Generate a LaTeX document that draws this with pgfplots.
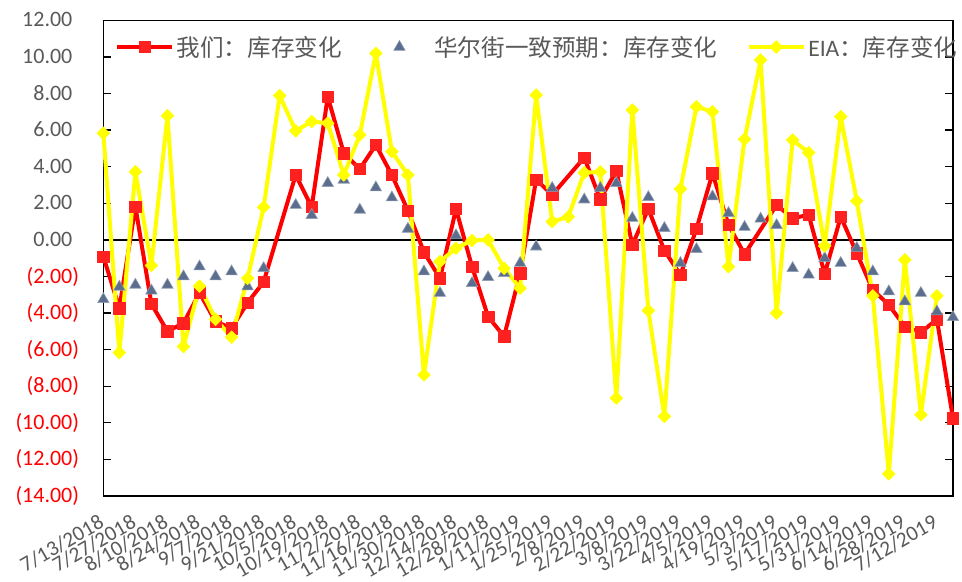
\documentclass[border=0pt]{standalone}
\usepackage{fontspec}
\setmainfont{Carlito}
\newfontfamily\cjk{Noto Sans CJK SC}
\usepackage{pgfplots}
\pgfplotsset{compat=1.18}
\definecolor{txtgray}{HTML}{595959}
\definecolor{tri}{HTML}{5B6E8E}
\definecolor{ylw}{HTML}{FFFF00}
\definecolor{rd}{HTML}{FF0000}
\definecolor{rdfill}{HTML}{FF2020}
\pgfplotsset{trilegend/.style={legend image code/.code={\path (0pt,-1pt) (45pt,1pt); \path[##1] plot[only marks] coordinates {(21pt,0pt)};}}}
\begin{document}
\begin{tikzpicture}[x=1pt,y=1pt]
\path[use as bounding box] (0,0) rectangle (721.5,435.75);
\begin{axis}[
  at={(77.5pt,63.75pt)}, anchor=south west,
  scale only axis, width=637.2pt, height=356.7pt,
  xmin=0, xmax=53, ymin=-14, ymax=12,
  clip=false,
  axis line style={black, line width=1.1pt},
  xtick={0,2,...,52},
  xticklabels={7/13/2018,7/27/2018,8/10/2018,8/24/2018,9/7/2018,9/21/2018,10/5/2018,10/19/2018,11/2/2018,11/16/2018,11/30/2018,12/14/2018,12/28/2018,1/11/2019,1/25/2019,2/8/2019,2/22/2019,3/8/2019,3/22/2019,4/5/2019,4/19/2019,5/3/2019,5/17/2019,5/31/2019,6/14/2019,6/28/2019,7/12/2019},
  x tick style={draw=none},
  xticklabel style={xshift=-4pt, yshift=-13pt, rotate=30, anchor=north east, inner sep=0pt, font=\fontsize{16}{18}\selectfont, text=txtgray},
  ytick={-14,-12,...,12},
  yticklabels={{\color{red}(14.00)},{\color{red}(12.00)},{\color{red}(10.00)},{\color{red}(8.00)},{\color{red}(6.00)},{\color{red}(4.00)},{\color{red}(2.00)},0.00\phantom{)},2.00\phantom{)},4.00\phantom{)},6.00\phantom{)},8.00\phantom{)},10.00\phantom{)},12.00\phantom{)}},
  yticklabel style={anchor=east, inner sep=0pt, xshift=-18pt, font=\fontsize{16.5}{20}\selectfont, text=txtgray},
  tick align=inside,
  y tick style={black, line width=1pt},
  major tick length=6pt,
  extra y ticks={0},
  extra y tick labels={},
  extra y tick style={grid=major, major grid style={black, line width=1.1pt}, major tick length=0pt},
  legend columns=3,
  legend cell align=left,
  legend style={at={(0.0138,0.944)}, anchor=west, draw=none, fill=none, inner sep=0pt,
    font=\fontsize{17.7}{20}\selectfont\cjk, text=txtgray,
    /tikz/every even column/.append style={column sep=20pt}},
  legend image code/.code={\draw[mark repeat=2,mark phase=2,#1] plot coordinates {(0pt,0pt) (20.5pt,0pt) (41pt,0pt)};},
]
\addplot[color=rd, line width=3pt, line join=round, mark=square*, mark size=4.3pt,
  mark options={solid, fill=rdfill, draw=rdfill, line width=0.4pt}] coordinates {
(0,-0.91) (1,-3.73) (2,1.82) (3,-3.5) (4,-5.0) (5,-4.55) (6,-2.9) (7,-4.46) (8,-4.83) (9,-3.43)
(10,-2.3) (12,3.55) (13,1.8) (14,7.83) (15,4.74) (16,3.88) (17,5.19) (18,3.55) (19,1.6)
(20,-0.67) (21,-2.1) (22,1.69) (23,-1.46) (24,-4.19) (25,-5.28) (26,-1.82) (27,3.3) (28,2.46)
(30,4.5) (31,2.22) (32,3.77) (33,-0.27) (34,1.7) (35,-0.58) (36,-1.91) (37,0.6) (38,3.64) (39,0.82)
(40,-0.78) (42,1.91) (43,1.18) (44,1.37) (45,-1.86) (46,1.27) (47,-0.73) (48,-2.73) (49,-3.55)
(50,-4.74) (51,-5.06) (52,-4.34) (53,-9.75)
};
\addlegendentry{我们：库存变化}
\addplot[only marks, mark=triangle*, mark size=5pt,
  mark options={fill=tri, draw=tri!65!white, line width=0.4pt}, trilegend] coordinates {
(0,-3.25) (1,-2.57) (2,-2.46) (3,-2.78) (4,-2.46) (5,-2.0) (6,-1.46) (7,-2.0) (8,-1.73) (9,-2.55)
(10,-1.55) (12,1.9) (13,1.35) (14,3.1) (15,3.28) (16,1.64) (17,2.86) (18,2.31) (19,0.6)
(20,-1.73) (21,-2.91) (22,0.24) (23,-2.37) (24,-2.04) (25,-1.82) (26,-1.27) (27,-0.37) (28,2.83)
(30,2.2) (31,2.84) (32,3.1) (33,1.19) (34,2.33) (35,0.64) (36,-1.27) (37,-0.51) (38,2.37) (39,1.46)
(40,0.7) (41,1.15) (42,0.8) (43,-1.55) (44,-1.91) (45,-1.0) (46,-1.27) (47,-0.45) (48,-1.73) (49,-2.82)
(50,-3.37) (51,-2.91) (52,-3.92) (53,-4.23)
};
\addlegendentry{华尔街一致预期：库存变化}
\addplot[color=ylw, line width=3pt, line join=round, mark=square*, mark size=3.4pt,
  mark options={solid, rotate=45, fill=ylw, draw=ylw, line width=0.4pt}] coordinates {
(0,5.83) (1,-6.16) (2,3.73) (3,-1.4) (4,6.79) (5,-5.83) (6,-2.53) (7,-4.34) (8,-5.32) (9,-2.1)
(10,1.79) (11,7.89) (12,5.96) (13,6.47) (14,6.38) (15,3.55) (16,5.74) (17,10.2) (18,4.83) (19,3.55)
(20,-7.38) (21,-1.19) (22,-0.45) (23,-0.03) (24,0.0) (25,-1.55) (26,-2.64) (27,7.92) (28,1.0) (29,1.26)
(30,3.67) (31,3.72) (32,-8.65) (33,7.1) (34,-3.86) (35,-9.65) (36,2.79) (37,7.28) (38,7.01) (39,-1.46)
(40,5.5) (41,9.84) (42,-4.0) (43,5.46) (44,4.77) (45,-0.33) (46,6.74) (47,2.13) (48,-3.06) (49,-12.79)
(50,-1.09) (51,-9.56) (52,-3.06)
};
\addlegendentry{{\rmfamily EIA}：库存变化}
\end{axis}
\end{tikzpicture}
\end{document}
